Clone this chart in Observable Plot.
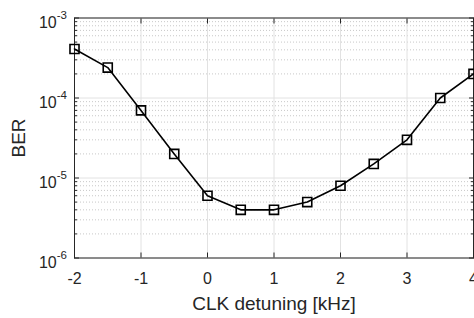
<!DOCTYPE html>
<html><head><meta charset="utf-8">
<script src="https://cdn.jsdelivr.net/npm/d3@7"></script>
<script src="https://cdn.jsdelivr.net/npm/@observablehq/plot@0.6"></script>
<style>html,body{margin:0;padding:0;background:#fff} svg{display:block}</style>
</head><body><div id="chart"></div>
<script>
const detuning = [-2, -1.5, -1, -0.5, 0, 0.5, 1, 1.5, 2, 2.5, 3, 3.5, 4];
const ber = [4.1e-4, 2.4e-4, 7e-5, 2e-5, 6e-6, 4e-6, 4e-6, 5e-6, 8e-6, 1.5e-5, 3e-5, 1e-4, 2e-4];
const xTicks = [-2, -1, 0, 1, 2, 3, 4];
const yTicks = [1e-6, 1e-5, 1e-4, 1e-3];
const minorMultipliers = [2, 3, 4, 5, 6, 7, 8, 9];
const xLabel = "CLK detuning [kHz]";
const yLabel = "BER";

const yMinor = yTicks.slice(0, -1).flatMap(d => minorMultipliers.map(k => k * d));
const data = detuning.map((x, i) => ({x, y: ber[i]}));
const font = "'Liberation Sans', Arial, Helvetica, sans-serif";
const ink = "#262626";

const chart = Plot.plot({
  width: 474, height: 318,
  marginLeft: 74, marginRight: 1, marginTop: 17.5, marginBottom: 60.5,
  style: {fontFamily: font, fontSize: "16px", color: ink, background: "#fff", overflow: "hidden"},
  x: {domain: [-2, 4]},
  y: {type: "log", domain: [1e-6, 1e-3]},
  marks: [
    Plot.ruleY(yMinor, {stroke: "#c8c8c8", strokeDasharray: "1,2"}),
    Plot.ruleY(yTicks, {stroke: "#e2e2e2"}),
    Plot.ruleX(xTicks, {stroke: "#e2e2e2"}),
    Plot.axisX(xTicks, {anchor: "bottom", tickSize: -5, tickFormat: () => "", label: null, stroke: ink}),
    Plot.axisX(xTicks, {anchor: "top", tickSize: -5, tickFormat: () => "", label: null, stroke: ink}),
    Plot.axisY(yTicks, {anchor: "left", tickSize: -5, tickFormat: () => "", label: null, stroke: ink}),
    Plot.axisY(yTicks, {anchor: "right", tickSize: -5, tickFormat: () => "", label: null, stroke: ink}),
    Plot.axisY(yMinor, {anchor: "left", tickSize: -3, tickFormat: () => "", label: null, stroke: ink}),
    Plot.axisY(yMinor, {anchor: "right", tickSize: -3, tickFormat: () => "", label: null, stroke: ink}),
    Plot.axisX(xTicks, {anchor: "bottom", tickSize: 0, tickPadding: 15, fontSize: 16, label: null, fill: ink,
      tickFormat: d => String(d)}),
    Plot.axisY(yTicks, {anchor: "left", tickSize: 0, tickPadding: 7.5, dy: 5, fontSize: 16, label: null, fill: ink,
      tickFormat: d => "10^" + Math.round(Math.log10(d))}),
    Plot.frame({stroke: ink}),
    Plot.line(data, {x: "x", y: "y", stroke: "#000", strokeWidth: 1.6}),
    Plot.dot(data, {x: "x", y: "y", symbol: "square", r: 5.1, stroke: "#000", strokeWidth: 1.6, fill: "none"}),
    Plot.text([xLabel], {frameAnchor: "bottom", lineAnchor: "middle", textAnchor: "middle", dy: 46, fontSize: 19, fill: ink}),
    Plot.text([yLabel], {frameAnchor: "left", lineAnchor: "middle", textAnchor: "middle", dx: -55.5, rotate: -90, fontSize: 19, fill: ink})
  ]
});

d3.select(chart).selectAll("text").each(function() {
  const m = /^10\^(.+)$/.exec(this.textContent);
  if (m) {
    const s = d3.select(this);
    s.text("10");
    s.append("tspan").attr("dy", "-9").attr("font-size", "11.5").text(m[1]);
  }
});

document.getElementById("chart").append(chart);
</script>
</body></html>
